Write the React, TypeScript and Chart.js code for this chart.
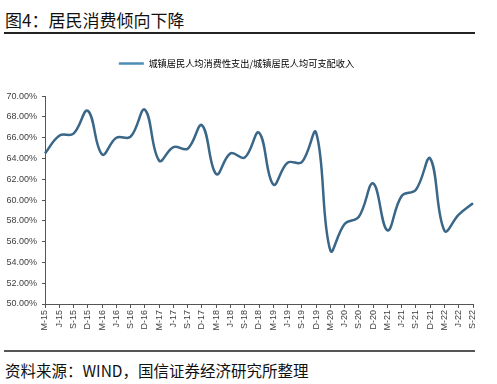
import React, { useEffect, useRef } from "react";
import { Chart, registerables } from "chart.js";

Chart.register(...registerables);

const categories = [
  "M-15", "J-15", "S-15", "D-15",
  "M-16", "J-16", "S-16", "D-16",
  "M-17", "J-17", "S-17", "D-17",
  "M-18", "J-18", "S-18", "D-18",
  "M-19", "J-19", "S-19", "D-19",
  "M-20", "J-20", "S-20", "D-20",
  "M-21", "J-21", "S-21", "D-21",
  "M-22", "J-22", "S-22",
];

const ratioValues = [
  64.5, 66.2, 66.4, 68.6,
  64.4, 66.0, 66.1, 68.7,
  63.8, 65.1, 64.95, 67.2,
  62.5, 64.5, 64.1, 66.5,
  61.5, 63.6, 63.65, 66.5,
  55.15, 57.7, 58.4, 61.6,
  57.1, 60.4, 61.0, 64.0,
  57.05, 58.6, 59.7,
];

const seriesLabel = "城镇居民人均消费性支出/城镇居民人均可支配收入";
const titleText = "图4：居民消费倾向下降";
const sourceText = "资料来源：WIND，国信证券经济研究所整理";
const yMin = 50;
const yMax = 70;
const yStep = 2;

const legendSpacer = {
  id: "legendSpacer",
  beforeInit(chart: any) {
    const legend = chart.legend;
    if (!legend) return;
    const orig = legend.fit;
    legend.fit = function () {
      orig.call(this);
      this.height += 18;
    };
  },
};

export default function App() {
  const ref = useRef<HTMLCanvasElement | null>(null);

  useEffect(() => {
    if (!ref.current) return;
    const chart = new Chart(ref.current, {
      type: "line",
      data: {
        labels: categories,
        datasets: [
          {
            label: seriesLabel,
            data: ratioValues,
            borderColor: "#3a6688",
            backgroundColor: "#3a6688",
            borderWidth: 2.5,
            pointRadius: 0,
            tension: 0.4,
            fill: false,
          },
        ],
      },
      options: {
        responsive: false,
        animation: false,
        layout: { padding: { top: 9, right: 24, left: 0, bottom: 0 } },
        plugins: {
          tooltip: { enabled: false },
          legend: {
            display: true,
            position: "top",
            labels: {
              usePointStyle: false,
              boxWidth: 25,
              boxHeight: 2.5,
              padding: 10,
              color: "#555555",
              font: { family: "'Noto Sans CJK SC', sans-serif", size: 9.2 },
              generateLabels: () => [
                {
                  text: seriesLabel,
                  fillStyle: "#4f8db8",
                  strokeStyle: "#4f8db8",
                  lineWidth: 0,
                  hidden: false,
                  datasetIndex: 0,
                } as any,
              ],
            },
          },
        },
        scales: {
          x: {
            type: "category",
            offset: false,
            grid: {
              display: true,
              drawOnChartArea: false,
              drawTicks: true,
              tickLength: 4,
              color: "#555555",
            },
            border: { display: true, color: "#555555", width: 1 },
            ticks: {
              autoSkip: false,
              minRotation: 90,
              maxRotation: 90,
              padding: 2,
              color: "#404040",
              font: { family: "'Liberation Sans', Arial, sans-serif", size: 9 },
            },
            afterFit: (scale: any) => {
              scale.height = 41;
            },
          },
          y: {
            min: yMin,
            max: yMax,
            grid: {
              display: true,
              drawOnChartArea: false,
              drawTicks: true,
              tickLength: 3,
              color: "#555555",
            },
            border: { display: true, color: "#555555", width: 1 },
            ticks: {
              stepSize: yStep,
              padding: 5,
              color: "#404040",
              font: { family: "'Liberation Sans', Arial, sans-serif", size: 9 },
              callback: (v: any) => Number(v).toFixed(2) + "%",
            },
            afterFit: (scale: any) => {
              scale.width = 45;
            },
          },
        },
      },
      plugins: [legendSpacer],
    });
    return () => chart.destroy();
  }, []);

  return (
    <div
      style={{
        position: "absolute",
        left: 0,
        top: 0,
        width: 497,
        height: 384,
        background: "#ffffff",
        overflow: "hidden",
      }}
    >
      <div
        style={{
          position: "absolute",
          left: 5,
          top: 9,
          fontFamily: "'Noto Sans CJK SC', sans-serif",
          fontSize: 17,
          lineHeight: "22px",
          color: "#111111",
          whiteSpace: "nowrap",
        }}
      >
        {titleText}
      </div>
      <div
        style={{
          position: "absolute",
          left: 4,
          top: 32,
          width: 471,
          height: 1.5,
          background: "#222222",
        }}
      />
      <canvas
        ref={ref}
        width={497}
        height={305}
        style={{ position: "absolute", left: 0, top: 40, width: 497, height: 305 }}
      />
      <div
        style={{
          position: "absolute",
          left: 4,
          top: 350,
          width: 471,
          height: 1.5,
          background: "#555555",
        }}
      />
      <div
        style={{
          position: "absolute",
          left: 5,
          top: 360,
          fontFamily: "'Noto Sans CJK SC', sans-serif",
          fontSize: 15.5,
          lineHeight: "20px",
          color: "#111111",
          whiteSpace: "nowrap",
        }}
      >
        {sourceText}
      </div>
    </div>
  );
}
